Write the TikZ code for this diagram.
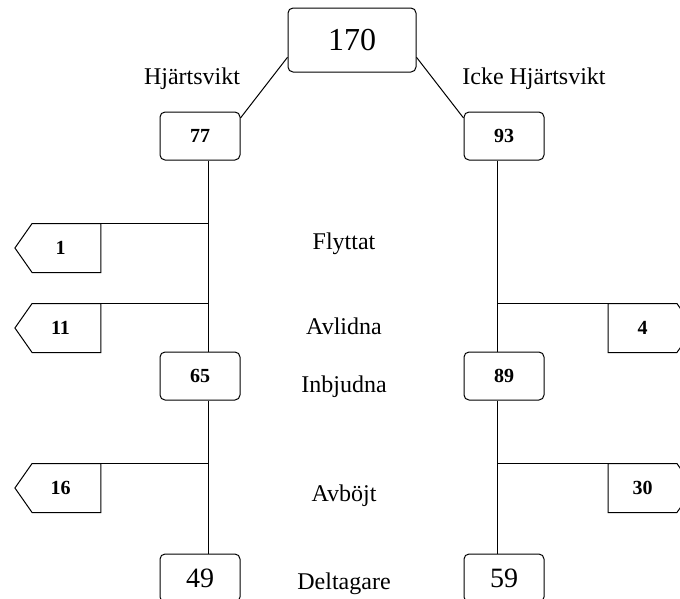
\documentclass[tikz,border=0pt]{standalone}
\usepackage{fontspec}
\setmainfont{Liberation Serif}
\usetikzlibrary{shapes.symbols}
\tikzset{cnt/.style={draw, rounded corners=5pt, minimum width=80pt, minimum height=48pt, inner sep=0pt,
    font=\fontsize{20}{20}\selectfont\bfseries},
  big/.style={cnt, font=\fontsize{28}{28}\selectfont},
  drop/.style={draw, signal, signal pointer angle=110, minimum width=86pt, minimum height=49pt, inner sep=0pt,
    font=\fontsize{20}{20}\selectfont\bfseries},
  dropl/.style={drop, signal to=west, execute at end node={\hspace{12pt}}},
  dropr/.style={drop, signal to=east},
  lbl/.style={anchor=base, font=\fontsize{24}{24}\selectfont}}

\begin{document}
\begin{tikzpicture}[x=1pt, y=-1pt, line width=1pt]
  \useasboundingbox (0,0) rectangle (680,598);
  \node[cnt, minimum width=128pt, minimum height=64pt, font=\fontsize{32}{32}\selectfont] (tot) at (352,40) {170};
  % the two groups
  \node[cnt] (h77) at (200,136) {77};
  \node[cnt] (h65) at (200,376) {65};
  \node[big] (h49) at (200,578) {49};
  \node[cnt] (i93) at (504,136) {93};
  \node[cnt] (i89) at (504,376) {89};
  \node[big] (i59) at (504,578) {59};
  \draw (tot.195) -- (h77.24);
  \draw (tot.-15) -- (i93.156);
  % spines
  \coordinate (sl) at (208,0);
  \coordinate (sr) at (497,0);
  \draw (h77.south -| sl) -- (h65.north -| sl);
  \draw (h65.south -| sl) -- (h49.north -| sl);
  \draw (i93.south -| sr) -- (i89.north -| sr);
  \draw (i89.south -| sr) -- (i59.north -| sr);
  % drop-outs
  \foreach \n/\y/\v in {o1/248/1,o11/328/11,o16/488/16}{
    \node[dropl] (\n) at (66.5,\y) {\v};
    \draw (\n.north) -- (\n.north -| sl);}
  \foreach \n/\y/\v in {o4/328/4,o30/488/30}{
    \node[dropr] (\n) at (642.5,\y) {\v};
    \draw (\n.north) -- (\n.north -| sr);}
  % row labels
  \node[lbl] (hv) at (192,84) {Hjärtsvikt};
  \node[lbl] (ihv) at (534,84) {Icke Hjärtsvikt};
  \node[lbl] (fly) at (344,249) {Flyttat};
  \node[lbl] (avl) at (344,334) {Avlidna};
  \node[lbl] (inb) at (344,392) {Inbjudna};
  \node[lbl] (avb) at (344,501) {Avböjt};
  \node[lbl] (del) at (344,589) {Deltagare};
\end{tikzpicture}
\end{document}
